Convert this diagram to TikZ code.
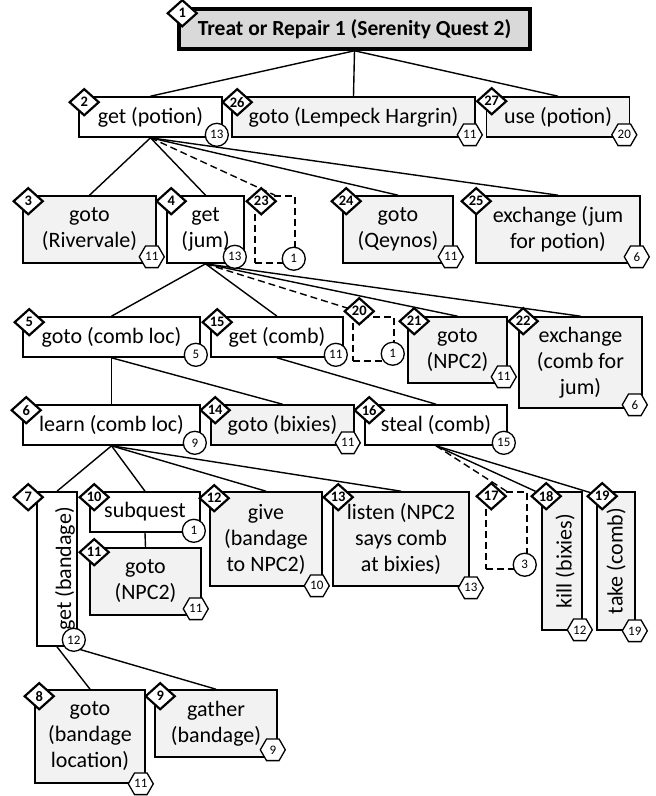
\documentclass[tikz,border=0pt]{standalone}
\usepackage{fontspec}
\setmainfont{Carlito}
\usetikzlibrary{shapes.geometric, calc, positioning}
\tikzset{
    task/.style={
        rectangle,
        draw=black,
        line width=1.6pt,
        fill=white,
        inner sep=0pt,
        align=center
    },
    leaf/.style={
        task,
        fill=black!5
    },
    optional/.style={
        rectangle,
        draw=black,
        line width=1.5pt,
        dash pattern=on 7pt off 4pt,
        inner sep=0pt
    },
    ordnum/.style={
        diamond,
        draw=black,
        line width=2.2pt,
        fill=white,
        inner sep=0pt,
        minimum width=30pt,
        minimum height=27pt,
        font=\bfseries\fontsize{14.5}{15}\selectfont
    },
    subnum/.style={
        circle,
        draw=black,
        line width=1.3pt,
        fill=white,
        inner sep=0pt,
        minimum size=23pt,
        font=\fontsize{13}{13}\selectfont
    },
    primnum/.style={
        regular polygon,
        regular polygon sides=6,
        draw=black,
        line width=1.3pt,
        fill=white,
        inner sep=0pt,
        minimum size=25pt,
        font=\fontsize{13}{13}\selectfont
    },
    link/.style={
        draw=black,
        line width=1.4pt
    },
    optlink/.style={
        link,
        dash pattern=on 7pt off 4pt
    }
}
\begin{document}
\begin{tikzpicture}[x=1pt, y=-1pt, font=\fontsize{22}{26}\selectfont]

\fill[white] (0,0) rectangle (656,796);
\useasboundingbox (0,0) rectangle (656,796);

% Root
\node[task, fill=black!15, line width=3.5pt, minimum width=351pt, minimum height=40pt, font=\bfseries\fontsize{21.5}{26}\selectfont] (n1) at (354.5,29) {Treat or Repair 1 (Serenity Quest 2)};

% Level 2
\node[task, minimum width=143pt, minimum height=40pt] (n2) at (150.5,117) {get (potion)};
\node[leaf, minimum width=243pt, minimum height=40pt] (n26) at (353.5,117) {goto (Lempeck Hargrin)};
\node[leaf, minimum width=143pt, minimum height=40pt] (n27) at (558,117) {use (potion)};

% Level 3
\node[leaf, minimum width=133pt, minimum height=67pt] (n3) at (89.5,229.5) {goto\\(Rivervale)};
\node[task, minimum width=77pt, minimum height=67pt] (n4) at (205.5,229.5) {get\\(jum)};
\node[optional, minimum width=40pt, minimum height=67pt] (n23) at (275,229.5) {};
\node[leaf, minimum width=110pt, minimum height=67pt] (n24) at (398,229.5) {goto\\(Qeynos)};
\node[leaf, minimum width=164pt, minimum height=67pt] (n25) at (558,229.5) {exchange (jum\\for potion)};

% Level 4
\node[task, minimum width=177pt, minimum height=40pt] (n5) at (111.5,337) {goto (comb loc)};
\node[task, minimum width=132pt, minimum height=40pt] (n15) at (277,337) {get (comb)};
\node[optional, minimum width=41pt, minimum height=44pt] (n20) at (373.5,339) {};
\node[leaf, minimum width=99pt, minimum height=66pt] (n21) at (457.5,350) {goto\\(NPC2)};
\node[leaf, minimum width=123pt, minimum height=91pt] (n22) at (580.5,362.5) {exchange\\(comb for\\jum)};

% Level 5
\node[task, minimum width=177pt, minimum height=40pt] (n6) at (111.5,425) {learn (comb loc)};
\node[leaf, minimum width=143pt, minimum height=40pt] (n14) at (282.5,425) {goto (bixies)};
\node[task, minimum width=142pt, minimum height=40pt] (n16) at (436,425) {steal (comb)};

% Level 6
\node[task, minimum width=40pt, minimum height=154pt, label={[rotate=90, yshift=-8pt]center:get (bandage)}] (n7) at (57,569) {};
\node[task, minimum width=110pt, minimum height=40pt] (n10) at (145,512) {subquest};
\node[leaf, minimum width=111pt, minimum height=67pt] (n11) at (145.5,581.5) {goto\\(NPC2)};
\node[leaf, minimum width=112pt, minimum height=94pt] (n12) at (266,539) {give\\(bandage\\to NPC2)};
\node[leaf, minimum width=136pt, minimum height=94pt] (n13) at (401,539) {listen (NPC2\\says comb\\at bixies)};
\node[optional, minimum width=41pt, minimum height=77pt] (n17) at (506.5,530.5) {};
\node[leaf, minimum width=40pt, minimum height=138pt, label={[rotate=90, yshift=-3pt]center:kill (bixies)}] (n18) at (562,561) {};
\node[leaf, minimum width=38pt, minimum height=138pt, label={[rotate=90]center:take (comb)}] (n19) at (616,561) {};

% Level 7
\node[leaf, minimum width=110pt, minimum height=93pt] (n8) at (90,736.5) {goto\\(bandage\\location)};
\node[leaf, minimum width=122pt, minimum height=67pt] (n9) at (216,723.5) {gather\\(bandage)};

% Connectors
\draw[link] (n1.south) -- (n2.north);
\draw[link] (n1.south) -- (n26.north);
\draw[link] (n1.south) -- (n27.north);

\draw[link] (n2.south) -- (n3.north);
\draw[link] (n2.south) -- (n4.north);
\draw[optlink] (n2.south) -- (n23.north);
\draw[link] (n2.south) -- (n24.north);
\draw[link] (n2.south) -- (n25.north);

\draw[link] (n4.south) -- (n5.north);
\draw[link] (n4.south) -- (n15.north);
\draw[optlink] (n4.south) -- (n20.north);
\draw[link] (n4.south) -- (n21.north);
\draw[link] (n4.south) -- (n22.north);

\draw[link] (n5.south) -- (n6.north);
\draw[link] (n5.south) -- (n14.north);
\draw[link] (n15.south) -- (n16.north);

\draw[link] (n6.south) -- (n7.north);
\draw[link] (n6.south) -- (n10.north);
\draw[link] (n6.south) -- (n12.north);
\draw[link] (n6.south) -- (n13.north);
\draw[link] (n10.south) -- (n11.north);

\draw[optlink] (n16.south) -- (n17.north);

\draw[link] (n7.south) -- (n8.north);
\draw[link] ($(n7.south east)+(-7,0)$) -- (n9.north);

% Order numbers
\node[ordnum] (d1) at ($(n1.north west)+(5,6)$) {1};
\node[ordnum] (d2) at ($(n2.north west)+(6,6)$) {2};
\node[ordnum] (d26) at ($(n26.north west)+(6,6)$) {26};
\node[ordnum] (d27) at ($(n27.north west)+(6,5)$) {27};
\node[ordnum] (d3) at ($(n3.north west)+(6,6)$) {3};
\node[ordnum] (d4) at ($(n4.north west)+(5,6)$) {4};
\node[ordnum] (d23) at ($(n23.north west)+(7,6)$) {23};
\node[ordnum] (d24) at ($(n24.north west)+(4,6)$) {24};
\node[ordnum] (d25) at ($(n25.north west)+(1,6)$) {25};
\node[ordnum] (d5) at ($(n5.north west)+(7,6)$) {5};
\node[ordnum] (d15) at ($(n15.north west)+(7,6)$) {15};
\node[ordnum] (d20) at ($(n20.north west)+(7,-5)$) {20};
\node[ordnum] (d21) at ($(n21.north west)+(7,5)$) {21};
\node[ordnum] (d22) at ($(n22.north west)+(5,5)$) {22};
\node[ordnum] (d6) at ($(n6.north west)+(4,6)$) {6};
\node[ordnum] (d14) at ($(n14.north west)+(5,6)$) {14};
\node[ordnum] (d16) at ($(n16.north west)+(5,6)$) {16};
\node[ordnum] (d7) at ($(n7.north west)+(-8,6)$) {7};
\node[ordnum] (d10) at ($(n10.north west)+(5,6)$) {10};
\node[ordnum] (d11) at ($(n11.north west)+(5,5)$) {11};
\node[ordnum] (d12) at ($(n12.north west)+(5,7)$) {12};
\node[ordnum] (d13) at ($(n13.north west)+(6,6)$) {13};
\node[ordnum] (d17) at ($(n17.north west)+(6,5)$) {17};
\node[ordnum] (d18) at ($(n18.north west)+(5,5)$) {18};
\node[ordnum] (d19) at ($(n19.north west)+(6,5)$) {19};
\node[ordnum] (d8) at ($(n8.north west)+(5,7)$) {8};
\node[ordnum] (d9) at ($(n9.north west)+(6,7)$) {9};

\draw[link] (n16.south) -- (d18);
\draw[link] (n16.south) -- (d19);

% Subtask counts
\node[subnum] (c2) at ($(n2.south east)+(-6,-3)$) {13};
\node[primnum] (c26) at ($(n26.south east)+(-6,-3)$) {11};
\node[primnum] (c27) at ($(n27.south east)+(-6,-3)$) {20};
\node[primnum] (c3) at ($(n3.south east)+(-5,-7)$) {11};
\node[subnum] (c4) at ($(n4.south east)+(-10,-7)$) {13};
\node[subnum] (c23) at ($(n23.south east)+(-2,-5)$) {1};
\node[primnum] (c24) at ($(n24.south east)+(-3,-7)$) {11};
\node[primnum] (c25) at ($(n25.south east)+(-4,-7)$) {6};
\node[subnum] (c5) at ($(n5.south east)+(-5,-3)$) {5};
\node[subnum] (c15) at ($(n15.south east)+(-8,-3)$) {11};
\node[subnum] (c20) at ($(n20.south east)+(-2,-8)$) {1};
\node[primnum] (c21) at ($(n21.south east)+(-4,-7)$) {11};
\node[primnum] (c22) at ($(n22.south east)+(-8,-4)$) {6};
\node[subnum] (c6) at ($(n6.south east)+(-6,-3)$) {9};
\node[primnum] (c14) at ($(n14.south east)+(-7,-3)$) {11};
\node[subnum] (c16) at ($(n16.south east)+(-4,-3)$) {15};
\node[subnum] (c7) at ($(n7.south east)+(-4,-7)$) {12};
\node[subnum] (c10) at ($(n10.south east)+(-7,-2)$) {1};
\node[primnum] (c11) at ($(n11.south east)+(-6,-7)$) {11};
\node[primnum] (c12) at ($(n12.south east)+(-6,-1)$) {10};
\node[primnum] (c13) at ($(n13.south east)+(1,1)$) {13};
\node[subnum] (c17) at ($(n17.south east)+(-3,-5)$) {3};
\node[primnum] (c18) at ($(n18.south east)+(-3,-1)$) {12};
\node[primnum] (c19) at ($(n19.south east)+(-1,0)$) {19};
\node[primnum] (c8) at ($(n8.south east)+(-5,0)$) {11};
\node[primnum] (c9) at ($(n9.south east)+(-5,-8)$) {9};

\end{tikzpicture}
\end{document}
